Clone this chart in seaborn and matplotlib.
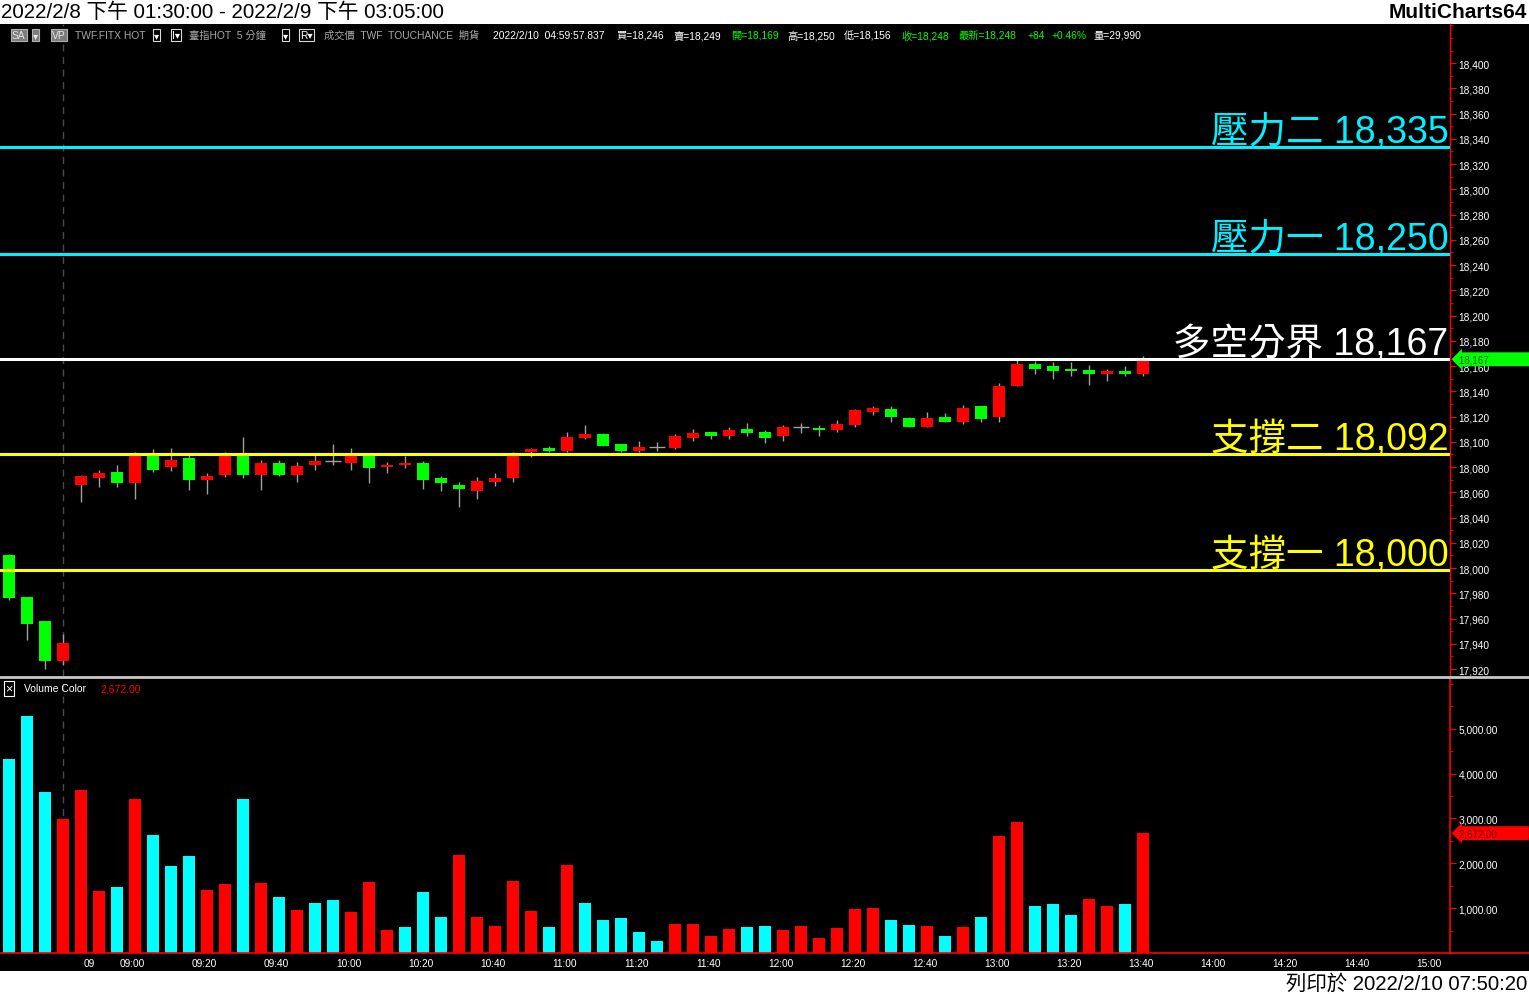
import numpy as np
import pandas as pd
import matplotlib
matplotlib.use('Agg')
import matplotlib.pyplot as plt
import matplotlib.transforms as mtransforms
from matplotlib.patches import Rectangle
from matplotlib.lines import Line2D
from matplotlib.ticker import MultipleLocator, FixedLocator
import seaborn as sns

# 5 minute bars: last 4 of 2/8 session, then 2/9 08:50 .. 13:45
opens = [18010, 17977, 17958, 17926, 18066, 18071, 18076, 18067, 18090, 18080,
         18087, 18070, 18074, 18090, 18074, 18083, 18074, 18082, 18085, 18083,
         18089, 18080, 18082, 18083, 18071, 18066, 18061, 18068, 18071, 18092,
         18095, 18093, 18103, 18106, 18098, 18093, 18096, 18095, 18103, 18108,
         18105, 18110, 18108, 18105, 18112, 18111, 18109, 18113, 18124, 18126,
         18119, 18112, 18120, 18116, 18128, 18120, 18144, 18162, 18160, 18158,
         18157, 18154, 18156, 18154]
highs = [18011, 17977, 17958, 17948, 18074, 18078, 18082, 18092, 18094, 18095,
         18090, 18075, 18092, 18104, 18086, 18086, 18084, 18090, 18098, 18095,
         18090, 18084, 18089, 18085, 18073, 18068, 18072, 18075, 18092, 18095,
         18097, 18108, 18113, 18107, 18098, 18101, 18100, 18106, 18110, 18108,
         18112, 18115, 18109, 18113, 18115, 18113, 18117, 18126, 18128, 18128,
         18120, 18124, 18123, 18129, 18128, 18147, 18166, 18164, 18163, 18163,
         18161, 18158, 18160, 18168]
lows = [17975, 17943, 17920, 17923, 18052, 18064, 18064, 18055, 18076, 18077,
        18062, 18059, 18072, 18071, 18062, 18073, 18068, 18078, 18082, 18078,
        18067, 18075, 18079, 18063, 18061, 18048, 18055, 18065, 18068, 18088,
        18092, 18092, 18102, 18097, 18092, 18092, 18093, 18094, 18101, 18102,
        18102, 18105, 18099, 18101, 18107, 18105, 18108, 18112, 18121, 18116,
        18112, 18112, 18116, 18114, 18116, 18116, 18144, 18154, 18150, 18152,
        18145, 18148, 18152, 18152]
closes = [17976, 17956, 17926, 17941, 18073, 18075, 18067, 18090, 18078, 18086,
          18070, 18073, 18090, 18074, 18083, 18074, 18081, 18085, 18085, 18089,
          18079, 18082, 18083, 18070, 18067, 18063, 18069, 18071, 18090, 18094,
          18093, 18104, 18106, 18097, 18093, 18096, 18096, 18105, 18107, 18105,
          18109, 18107, 18103, 18112, 18112, 18109, 18114, 18125, 18127, 18120,
          18112, 18119, 18116, 18127, 18118, 18144, 18162, 18158, 18156, 18156,
          18154, 18156, 18154, 18165]
volumes = [4330, 5290, 3590, 2990, 3635, 1385, 1470, 3435, 2630, 1940,
           2165, 1405, 1540, 3435, 1560, 1250, 960, 1115, 1180, 915,
           1585, 515, 580, 1360, 805, 2185, 805, 600, 1605, 935,
           580, 1960, 1115, 735, 780, 470, 270, 645, 645, 380,
           535, 580, 600, 515, 600, 335, 560, 980, 1005, 735,
           625, 600, 380, 580, 805, 2610, 2920, 1050, 1095, 845,
           1205, 1050, 1095, 2672]
# u = red volume bar, d = cyan volume bar
vol_dir = ['d', 'd', 'd', 'u', 'u', 'u', 'd', 'u', 'd', 'd',
           'd', 'u', 'u', 'd', 'u', 'd', 'u', 'd', 'd', 'u',
           'u', 'u', 'd', 'd', 'd', 'u', 'u', 'u', 'u', 'u',
           'd', 'u', 'd', 'd', 'd', 'd', 'd', 'u', 'u', 'u',
           'u', 'd', 'd', 'u', 'u', 'u', 'u', 'u', 'u', 'd',
           'd', 'u', 'd', 'u', 'd', 'u', 'u', 'd', 'd', 'd',
           'u', 'u', 'd', 'u']

levels = [18335, 18250, 18167, 18092, 18000]
level_names = ['壓力二', '壓力一', '多空分界', '支撐二', '支撐一']
level_colors = ['#00f0ff', '#00f0ff', '#ffffff', '#ffff00', '#ffff00']

time_pos = [4, 6, 10, 14, 18, 22, 26, 30, 34, 38, 42, 46, 50, 54, 58, 62, 66, 70, 74, 78]
time_labels = ['09', '09:00', '09:20', '09:40', '10:00', '10:20', '10:40', '11:00', '11:20',
               '11:40', '12:00', '12:20', '12:40', '13:00', '13:20', '13:40', '14:00',
               '14:20', '14:40', '15:00']

sns.set_style('dark')
plt.rcParams['font.family'] = ['Liberation Sans', 'Noto Sans CJK TC', 'DejaVu Sans']

W, H = 1529, 995
def fx(px):
    return px / W
def fy(py):
    return 1 - py / H

fig = plt.figure(figsize=(W / 100, H / 100), dpi=100, facecolor='white')
fig.add_artist(Rectangle((0, fy(972)), 1, fy(25) - fy(972), transform=fig.transFigure,
                         facecolor='black', edgecolor='none', zorder=-5))

ax = fig.add_axes([0, fy(677), fx(1450), fy(25) - fy(677)])
axv = fig.add_axes([0, fy(954), fx(1450), fy(680) - fy(954)])

df = pd.DataFrame({'bar': np.arange(len(opens)), 'open': opens, 'high': highs,
                   'low': lows, 'close': closes, 'volume': volumes, 'dir': vol_dir})

# ---- price panel
ax.set_facecolor('black')
ax.axvline(3, color='#4a4a4a', lw=1, ls=(0, (5, 4)), zorder=1)
ax.vlines(df['bar'], df['low'], df['high'], color='#a0a0a0', lw=1, zorder=2)
up = df[df['close'] > df['open']]
dn = df[df['close'] < df['open']]
dj = df[df['close'] == df['open']]
ax.bar(up['bar'], up['close'] - up['open'], bottom=up['open'], width=0.7,
       color='#ff0000', lw=0, zorder=3)
ax.bar(dn['bar'], dn['open'] - dn['close'], bottom=dn['close'], width=0.7,
       color='#00ff00', lw=0, zorder=3)
ax.hlines(dj['close'], dj['bar'] - 0.45, dj['bar'] + 0.45, color='#a0a0a0', lw=1, zorder=3)

# the platform draws its level lines a couple of pixels under the tick
nudge = mtransforms.ScaledTranslation(0, -2 / 100, fig.dpi_scale_trans)
blend = mtransforms.blended_transform_factory(ax.transAxes, ax.transData)
for val, name, col in zip(levels, level_names, level_colors):
    ax.plot([0, 1], [val, val], color=col, lw=2.2, zorder=4, transform=blend + nudge)
    ax.annotate(f'{name} {val:,}', xy=(0.9988, val), xycoords=blend, xytext=(0, 3),
                textcoords='offset pixels', ha='right', va='baseline',
                fontsize=27, color=col, zorder=5)

ax.set_xlim(-0.5, 80.05)
ax.set_ylim(17914.5, 18431)
ax.set_xticks([])
ax.yaxis.set_major_locator(FixedLocator(np.arange(17920, 18401, 20)))
ax.yaxis.set_minor_locator(MultipleLocator(10))
ax.yaxis.set_major_formatter(lambda v, p: f'{v:,.0f}')
ax.tick_params(axis='y', which='both', left=False, right=True, labelleft=False,
               labelright=True, color='#ff0000', labelcolor='white', labelsize=7.3,
               direction='out', pad=2)
ax.tick_params(axis='y', which='major', length=4)
ax.tick_params(axis='y', which='minor', length=2)
for s in ['top', 'left', 'bottom']:
    ax.spines[s].set_visible(False)
ax.spines['right'].set_color('#ff0000')
ax.spines['right'].set_linewidth(1)
ax.grid(False)

ax.text(1.0 + 9 / 1450, 18167, '18,167              ', transform=blend + nudge, ha='left',
        va='center', fontsize=7, color='#006000', clip_on=False, zorder=10,
        bbox=dict(boxstyle='larrow,pad=0.2', fc='#00ff00', ec='none'))

# ---- volume panel
axv.set_facecolor('black')
axv.axvline(3, color='#4a4a4a', lw=1, ls=(0, (5, 4)), zorder=0)
sns.barplot(data=df, x='bar', y='volume', hue='dir', palette={'u': '#ff0000', 'd': '#00ffff'},
            native_scale=True, dodge=False, width=0.65, errorbar=None, legend=False,
            saturation=1, linewidth=0, ax=axv, zorder=2)
axv.set_xlim(-0.5, 80.05)
axv.set_ylim(0, 6110)
axv.set_xlabel('')
axv.set_ylabel('')
axv.yaxis.tick_right()
axv.yaxis.set_major_locator(FixedLocator([1000, 2000, 3000, 4000, 5000]))
axv.yaxis.set_minor_locator(MultipleLocator(500))
axv.yaxis.set_major_formatter(lambda v, p: f'{v:,.2f}')
axv.tick_params(axis='y', which='both', left=False, right=True, labelleft=False,
                labelright=True, color='#ff0000', labelcolor='white', labelsize=7.3, pad=2)
axv.tick_params(axis='y', which='major', length=4)
axv.tick_params(axis='y', which='minor', length=2)
axv.set_xticks(time_pos)
axv.set_xticklabels([])
axv.tick_params(axis='x', color='#ff0000', length=3, direction='out')
for s in ['top', 'left']:
    axv.spines[s].set_visible(False)
for s in ['right', 'bottom']:
    axv.spines[s].set_color('#ff0000')
    axv.spines[s].set_linewidth(1.2)
axv.grid(False)
vblend = mtransforms.blended_transform_factory(axv.transData, axv.transAxes)
for p, lab in zip(time_pos, time_labels):
    axv.text(p + 0.17, -0.017, lab, transform=vblend, ha='left', va='top',
             fontsize=7.3, color='white', clip_on=False)

vblend2 = mtransforms.blended_transform_factory(axv.transAxes, axv.transData)
axv.text(1.0 + 9 / 1450, volumes[-1], f'{volumes[-1]:,.2f}           ', transform=vblend2,
         ha='left', va='center', fontsize=7, color='#7a0000', clip_on=False, zorder=10,
         bbox=dict(boxstyle='larrow,pad=0.2', fc='#ff0000', ec='none'))

axv.text(0.0035, 0.967, '×', transform=axv.transAxes, ha='left', va='center', fontsize=9,
         color='white', bbox=dict(boxstyle='square,pad=0.12', fc='black', ec='white', lw=0.8))
axv.text(24 / 1450, 0.967, 'Volume Color', transform=axv.transAxes, ha='left', va='center',
         fontsize=7.5, color='white')
axv.text(100 / 1450, 0.967, f'{volumes[-1]:,.2f}', transform=axv.transAxes, ha='left',
         va='center', fontsize=7.5, color='#ff0000')

# ---- separators and frame text
fig.add_artist(Line2D([0, 1], [fy(678), fy(678)], color='#c8c8c8', lw=2))
fig.add_artist(Line2D([fx(1450), 1], [fy(954), fy(954)], color='#ff0000', lw=1.2))

fig.text(fx(1), fy(12), '2022/2/8 下午 01:30:00 - 2022/2/9 下午 03:05:00', ha='left',
         va='center', fontsize=14.9, color='black')
fig.text(fx(1527), fy(13), 'MultiCharts64', ha='right', va='center', fontsize=15,
         weight='bold', color='black')
fig.text(fx(1527), fy(984), '列印於 2022/2/10 07:50:20', ha='right', va='center',
         fontsize=14.7, color='black')

gray_t = '#a8a8a8'
green_t = '#00ff00'
header = [(12, 'SA', '#e8e8e8', 'fill'), (33, '▾', '#e8e8e8', 'fill'),
          (52, 'VP', '#e8e8e8', 'fill'), (75, 'TWF.FITX HOT', gray_t, None),
          (154, '▾', 'white', 'line'), (172, 'I▾', 'white', 'line'),
          (189, '臺指HOT  5 分鐘', gray_t, None), (283, '▾', 'white', 'line'),
          (300, 'R▾', 'white', 'line'), (324, '成交價  TWF  TOUCHANCE  期貨', gray_t, None),
          (493, '2022/2/10  04:59:57.837', 'white', None), (617, '買=18,246', 'white', None),
          (674, '賣=18,249', 'white', None), (731, '開=18,169', green_t, None),
          (787, '高=18,250', 'white', None), (844, '低=18,156', 'white', None),
          (901, '收=18,248', green_t, None), (959, '最新=18,248', green_t, None),
          (1027, '+84', green_t, None), (1051, '+0.46%', green_t, None),
          (1094, '量=29,990', 'white', None)]
for px, s, col, box in header:
    kw = {}
    if box == 'fill':
        kw['bbox'] = dict(boxstyle='square,pad=0.12', fc='#7c7c7c', ec='#b0b0b0', lw=0.8)
    elif box == 'line':
        kw['bbox'] = dict(boxstyle='square,pad=0.12', fc='black', ec='#d8d8d8', lw=0.8)
    fig.text(fx(px), fy(36), s, color=col, fontsize=7.4, ha='left', va='center', **kw)

fig.savefig('out.png', dpi=100, facecolor='white')
